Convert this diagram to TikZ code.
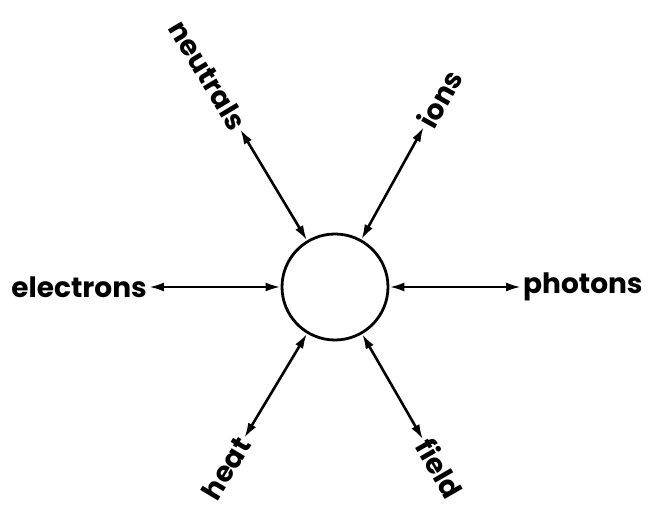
\documentclass[tikz,border=0pt]{standalone}
\usepackage{fontspec}
\setmainfont{Poppins}
\usetikzlibrary{arrows.meta}

\begin{document}
\begin{tikzpicture}[
    x=1pt, y=1pt,
    core/.style={draw, circle, line width=2.8pt, minimum size=106pt, inner sep=0pt},
    lbl/.style={font=\fontsize{28}{28}\selectfont\bfseries, inner sep=2pt},
    arr/.style={{Latex[length=15pt,width=9pt]}-{Latex[length=15pt,width=9pt]}, line width=2.6pt}
]
\useasboundingbox (-335,-223) rectangle (313,287);
\node[core] (core) at (0,0) {};
% free ends of the connectors
\coordinate (nend) at (121:184);
\coordinate (iend) at (61:183);
\coordinate (eend) at (180:186);
\coordinate (pend) at (0:186);
\coordinate (hend) at (239:176);
\coordinate (fend) at (300:176);
% labels
\node[lbl, anchor=east, rotate=-59] (neutrals) at (nend) {neutrals};
\node[lbl, anchor=west, rotate=61] (ions) at (iend) {ions};
\node[lbl, anchor=east] (electrons) at (eend) {electrons};
\node[lbl, anchor=west] (photons) at (pend) {photons};
\node[lbl, anchor=east, rotate=59] (heat) at (hend) {heat};
\node[lbl, anchor=west, rotate=-60] (field) at (fend) {field};
% connectors
\draw[arr] (core.121) -- (nend);
\draw[arr] (core.61) -- (iend);
\draw[arr] (core.180) -- (eend);
\draw[arr] (core.0) -- (pend);
\draw[arr] (core.239) -- (hend);
\draw[arr] (core.300) -- (fend);
\end{tikzpicture}
\end{document}
